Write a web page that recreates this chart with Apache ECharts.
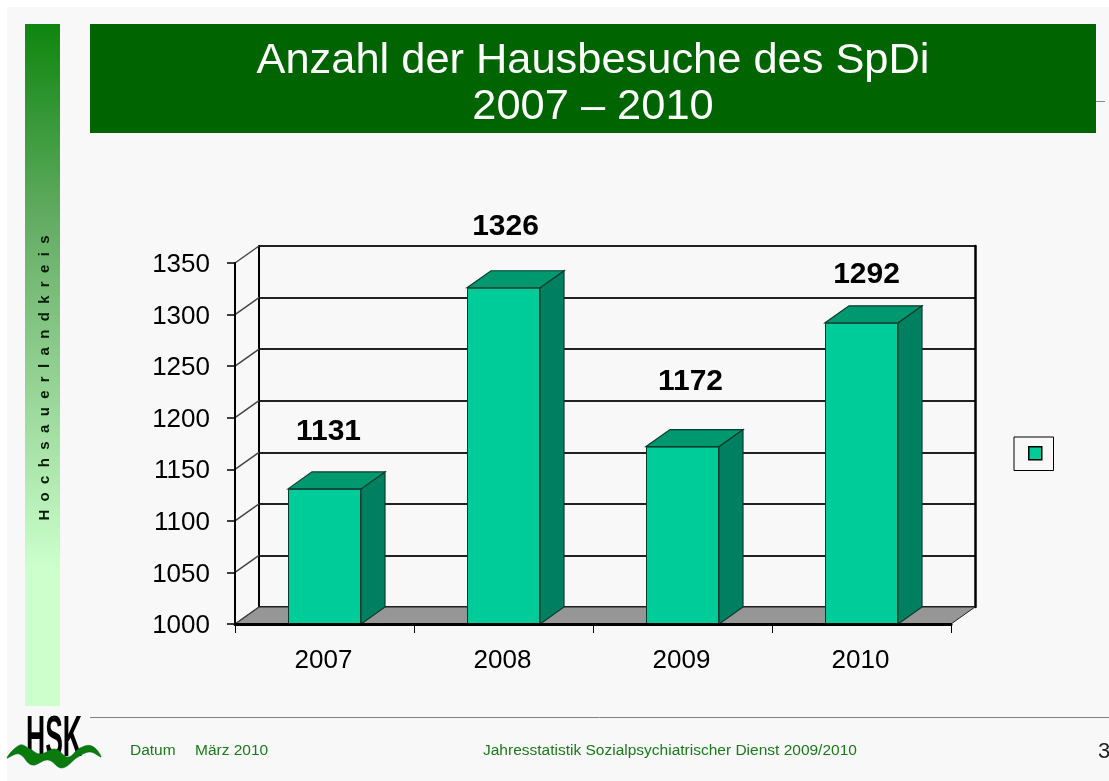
<!DOCTYPE html>
<html>
<head>
<meta charset="utf-8">
<title>Anzahl der Hausbesuche des SpDi</title>
<style>
    html, body { margin: 0; padding: 0; background: #fff; }
    #chart { width: 1109px; height: 781px; }
</style>
<script src="https://cdn.jsdelivr.net/npm/echarts@6/dist/echarts.min.js"></script>
</head>
<body>
<div id="chart"></div>
<script>
// Werte aus dem Bild
const years = ['2007', '2008', '2009', '2010'];
const hausbesuche = [1131, 1326, 1172, 1292];
const yTicks = [1000, 1050, 1100, 1150, 1200, 1250, 1300, 1350];

// 3D-Tiefe der Saeulen und Waende
const depthX = 24;
const depthY = 17;
const labelShift = [[4, -37], [2, -41], [8, -45], [5, -28]];

const font = '"Liberation Sans", Arial, sans-serif';
const frontColor = '#00CC99';
const sideColor = '#008060';
const topColor = '#00996F';

let myChart = echarts.init(document.getElementById('chart'));

let option = {
    animation: false,
    backgroundColor: '#fff',
    textStyle: { fontFamily: font },
    title: {
        text: 'Anzahl der Hausbesuche des SpDi\n2007 – 2010',
        left: 588,
        top: 33,
        textAlign: 'center',
        z: 10,
        textStyle: { color: '#fff', fontSize: 43.4, fontWeight: 'normal', lineHeight: 46, fontFamily: font }
    },
    legend: {
        left: 1014,
        top: 437,
        padding: [9, 11, 10, 14],
        itemWidth: 13,
        itemHeight: 13,
        itemGap: 0,
        icon: 'rect',
        borderColor: '#000',
        borderWidth: 1,
        selectedMode: false,
        formatter: function () { return ''; },
        data: [{ name: 'Hausbesuche', icon: 'rect', itemStyle: { borderColor: '#000', borderWidth: 1.5 } }]
    },
    grid: [
        // vordere Ebene mit Achsen und Saeulen
        { left: 235, top: 263, width: 716, height: 361 },
        // hintere Wand, um die Tiefe verschoben
        { left: 235 + depthX, top: 263 - depthY, width: 716, height: 361 }
    ],
    xAxis: [
        {
            type: 'category',
            gridIndex: 0,
            z: 6,
            data: years,
            axisLine: { lineStyle: { color: '#000', width: 3 } },
            axisTick: { show: true, alignWithLabel: false, length: 9, lineStyle: { color: '#000', width: 1 } },
            axisLabel: { color: '#000', fontSize: 26, margin: 24, interval: 0, padding: [0, 2, 0, 0], fontFamily: font }
        },
        {
            type: 'category',
            gridIndex: 1,
            data: years,
            axisLine: { show: false },
            axisTick: { show: false },
            axisLabel: { show: false }
        }
    ],
    yAxis: [
        {
            type: 'value',
            gridIndex: 0,
            z: 6,
            min: 1000,
            max: 1350,
            interval: 50,
            axisLine: { show: true, lineStyle: { color: '#000', width: 2 } },
            axisTick: { show: true, length: 8, lineStyle: { color: '#000', width: 1.5 } },
            axisLabel: {
                margin: 25,
                formatter: function (v) { return '{t|' + v + '}'; },
                rich: {
                    t: { color: '#000', fontSize: 26, fontFamily: font, padding: [4, 0, 0, 0] }
                }
            },
            splitLine: { show: false }
        },
        {
            type: 'value',
            gridIndex: 1,
            min: 1000,
            max: 1350,
            interval: 50,
            axisLine: { show: true, lineStyle: { color: '#000', width: 2 } },
            axisTick: { show: false },
            axisLabel: { show: false },
            splitLine: { show: true, lineStyle: { color: '#222', width: 2 } }
        },
        {
            type: 'value',
            gridIndex: 1,
            position: 'right',
            min: 1000,
            max: 1350,
            interval: 50,
            axisLine: { show: true, onZero: false, lineStyle: { color: '#000', width: 2.5 } },
            axisTick: { show: false },
            axisLabel: { show: false },
            splitLine: { show: false }
        }
    ],
    series: [
        // Boden
        {
            type: 'custom',
            z: 3,
            silent: true,
            encode: { x: 0, y: 1 },
            data: [[0, yTicks[0]]],
            renderItem: function (params, api) {
                let cs = params.coordSys;
                let y = api.coord([0, api.value(1)])[1];
                return {
                    type: 'polygon',
                    shape: {
                        points: [
                            [cs.x, y],
                            [cs.x + depthX, y - depthY],
                            [cs.x + cs.width + depthX, y - depthY],
                            [cs.x + cs.width, y]
                        ]
                    },
                    style: { fill: '#969696', stroke: '#222', lineWidth: 1 }
                };
            }
        },
        // schraege Linien zwischen Achse und Wand
        {
            type: 'custom',
            z: 3,
            silent: true,
            encode: { x: 0, y: 1 },
            data: yTicks.map(function (v) { return [0, v]; }),
            renderItem: function (params, api) {
                let cs = params.coordSys;
                let y = api.coord([0, api.value(1)])[1];
                return {
                    type: 'line',
                    shape: { x1: cs.x, y1: y, x2: cs.x + depthX, y2: y - depthY },
                    style: { stroke: '#444', lineWidth: 1.5 }
                };
            }
        },
        // Seite und Deckel der Saeulen
        {
            type: 'custom',
            z: 4,
            silent: true,
            encode: { x: 0, y: 1 },
            data: years.map(function (y, i) { return [i, hausbesuche[i]]; }),
            renderItem: function (params, api) {
                let top = api.coord([api.value(0), api.value(1)]);
                let base = api.coord([api.value(0), yTicks[0]]);
                let half = 36.5;
                let edge = { stroke: '#0b3b2d', lineWidth: 1.2 };
                return {
                    type: 'group',
                    children: [
                        {
                            type: 'polygon',
                            shape: {
                                points: [
                                    [top[0] + half, top[1]],
                                    [top[0] + half + depthX, top[1] - depthY],
                                    [top[0] + half + depthX, base[1] - depthY],
                                    [top[0] + half, base[1]]
                                ]
                            },
                            style: Object.assign({ fill: sideColor }, edge)
                        },
                        {
                            type: 'polygon',
                            shape: {
                                points: [
                                    [top[0] - half, top[1]],
                                    [top[0] - half + depthX, top[1] - depthY],
                                    [top[0] + half + depthX, top[1] - depthY],
                                    [top[0] + half, top[1]]
                                ]
                            },
                            style: Object.assign({ fill: topColor }, edge)
                        }
                    ]
                };
            }
        },
        // Vorderseite der Saeulen
        {
            name: 'Hausbesuche',
            type: 'bar',
            z: 5,
            barWidth: 73,
            itemStyle: { color: frontColor, borderColor: '#0b3b2d', borderWidth: 1 },
            data: hausbesuche.map(function (v, i) {
                return {
                    value: v,
                    label: { offset: labelShift[i] }
                };
            }),
            label: {
                show: true,
                position: 'top',
                color: '#000',
                fontSize: 30,
                fontWeight: 'bold',
                fontFamily: font
            }
        }
    ],
    graphic: [
        // Folienhintergrund
        { type: 'rect', z: -10, shape: { x: 7, y: 7, width: 1102, height: 774 }, style: { fill: '#F8F8F8' } },
        // Titelbalken
        { type: 'rect', z: -9, shape: { x: 90, y: 24, width: 1006, height: 109 }, style: { fill: '#006400' } },
        { type: 'line', z: -9, shape: { x1: 1096, y1: 101.5, x2: 1105, y2: 101.5 }, style: { stroke: '#888', lineWidth: 1 } },
        // Seitenleiste
        {
            type: 'rect',
            z: -9,
            shape: { x: 25, y: 24, width: 35, height: 682 },
            style: {
                fill: new echarts.graphic.LinearGradient(0, 0, 0, 1, [
                    { offset: 0, color: '#0E860E' },
                    { offset: 0.3, color: '#66AE66' },
                    { offset: 0.8, color: '#CCFFCC' },
                    { offset: 1, color: '#CCFFCC' }
                ])
            }
        },
        {
            type: 'text',
            rotation: Math.PI / 2,
            x: 45,
            y: 378,
            style: {
                text: 'H\u00a0\u00a0o\u00a0\u00a0c\u00a0\u00a0h\u00a0\u00a0s\u00a0\u00a0a\u00a0\u00a0u\u00a0\u00a0e\u00a0\u00a0r\u00a0\u00a0l\u00a0\u00a0a\u00a0\u00a0n\u00a0\u00a0d\u00a0\u00a0k\u00a0\u00a0r\u00a0\u00a0e\u00a0\u00a0i\u00a0\u00a0s',
                font: 'bold 15px ' + font,
                fill: '#061A06',
                align: 'center',
                verticalAlign: 'middle'
            }
        },
        // Fusszeile
        { type: 'line', z: -9, shape: { x1: 90, y1: 717.5, x2: 1109, y2: 717.5 }, style: { stroke: '#808080', lineWidth: 1 } },
        { type: 'text', x: 130, y: 751, style: { text: 'Datum', font: '15.5px ' + font, fill: '#1A7A1A', verticalAlign: 'middle' } },
        { type: 'text', x: 195, y: 751, style: { text: 'März 2010', font: '15.5px ' + font, fill: '#1A7A1A', verticalAlign: 'middle' } },
        { type: 'text', x: 483, y: 751, style: { text: 'Jahresstatistik Sozialpsychiatrischer Dienst 2009/2010', font: '15.5px ' + font, fill: '#1A7A1A', verticalAlign: 'middle' } },
        { type: 'text', x: 1098, y: 752, style: { text: '3', font: '22px ' + font, fill: '#222', verticalAlign: 'middle' } },
        // Logo
        {
            type: 'text',
            x: 26,
            y: 740,
            scaleX: 0.457,
            style: { text: 'HSK', font: 'bold 58px ' + font, fill: '#000', verticalAlign: 'middle' }
        },
        {
            type: 'polygon',
            shape: {
                smooth: 0.4,
                points: [
                    [7, 758], [20, 745], [30, 749], [40, 754], [55, 749], [68, 757], [80, 748], [92, 746], [101, 757],
                    [90, 752], [78, 757], [62, 768], [48, 760], [32, 765], [19, 754]
                ]
            },
            style: { fill: '#0A7A0A', stroke: '#063', lineWidth: 0.5 }
        }
    ]
};

// die Serien bleiben auf der vorderen Ebene
option.series.forEach(function (s) {
    s.xAxisIndex = 0;
    s.yAxisIndex = 0;
    s.coordinateSystem = 'cartesian2d';
});

myChart.setOption(option);
</script>
</body>
</html>
